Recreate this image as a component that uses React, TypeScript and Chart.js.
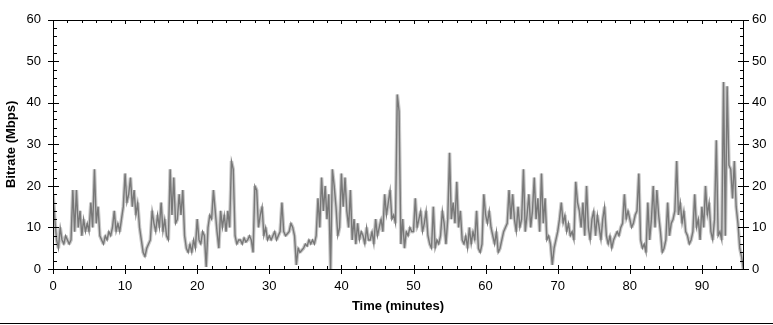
import React, { useEffect, useRef } from "react";
import { Chart, registerables } from "chart.js";

Chart.register(...registerables);

// Samples every quarter minute (minutes 0 .. 95.75), Mbps
const SAMPLES_PER_MINUTE = 4;
const bitrate: number[] = [
  18, 12, 7, 5,   10, 7, 6, 8,    7, 6, 7, 19,    9, 19, 10, 14,  8, 12, 9, 11,
  9, 16, 10, 24,  11, 15, 8, 7,   6, 8, 7, 9,     8, 10, 14, 9,   11, 9, 12, 15,
  23, 16, 18, 22, 15, 19, 13, 16, 10, 7, 4, 3,    5, 6, 7, 14,    11, 9, 13, 10,
  16, 9, 12, 8,   7, 24, 13, 22,  11, 12, 18, 13, 19, 8, 5, 4,    6, 4, 7, 5,
  12, 7, 6, 9,    8, 0.5, 10, 13, 12, 19, 14, 9,  5, 14, 10, 13,  9, 14, 10, 26,
  24, 8, 6, 7,    7, 6, 7.5, 6.5, 7, 8, 7, 4,     20, 19, 10, 13, 15, 8, 10, 7,
  8, 7, 8, 9,     7, 8, 9, 16,    9, 8, 8.5, 9,   11, 10, 8, 1,   5, 4, 4.5, 5,
  6, 5.5, 7, 6,   7, 6, 8, 17,    10, 22, 14, 20, 12, 18, 0, 24,  20, 15, 8, 10,
  23, 15, 22, 14, 10, 19, 7, 12,  6, 11, 7, 9,    8, 6, 10, 7,    7, 9, 6, 12,
  8, 10, 12, 9,   18, 13, 16, 19, 12, 13, 11, 42, 38, 6, 12, 5,   9, 8, 10, 9,
  9, 17, 10, 12,  14, 9, 11, 14,  8, 6, 5, 15,    5, 7, 6, 8,     14, 11, 6, 12,
  28, 12, 16, 11, 21, 10, 14, 7,  6, 8, 5, 10,    6, 9, 7, 14,    5, 4, 6, 18,
  13, 11, 14, 10, 8, 6, 9, 4,     5, 7, 9, 10,    11, 19, 12, 18, 12, 9, 15, 10,
  12, 24, 9, 13,  18, 10, 14, 22, 12, 17, 9, 23,  11, 17, 7, 8,   6, 1, 5, 7,
  9, 12, 16, 11,  13, 9, 11, 8,   9, 7, 21, 16,   14, 10, 16, 8,  20, 10, 7, 12,
  14, 8, 13, 10,  7, 12, 15, 8,   6, 8, 5, 7,     8, 9, 8, 10,    11, 18, 12, 14,
  12, 10, 11, 13, 14, 23, 7, 5,   6, 4, 16, 7,    12, 20, 10, 19, 13, 9, 4, 5,
  7, 16, 8, 11,   12, 14, 26, 13, 16, 11, 14, 9,  8, 6, 7, 9,     18, 10, 12, 7,
  15, 10, 20, 13, 16, 9, 7, 12,   31, 8, 9, 7,    45, 8, 44, 25,  24, 17, 26, 15,
  11, 5, 3, 0,
];

const xTickValues = [0, 10, 20, 30, 40, 50, 60, 70, 80, 90];
const yTickValues = [0, 10, 20, 30, 40, 50, 60];
const X_MAX = 95.7;
const Y_MAX = 60;

const FONT = "'Liberation Sans', Arial, sans-serif";

const framePlugin = {
  id: "frame",
  afterDraw(chart: any) {
    const { ctx, chartArea, scales } = chart;
    const x = scales.x;
    const y = scales.y;
    const L = Math.round(chartArea.left);
    const R = Math.round(chartArea.right);
    const T = Math.round(chartArea.top);
    const B = Math.round(chartArea.bottom);
    ctx.save();
    ctx.fillStyle = "#000";
    ctx.fillRect(L, T, 1, B - T + 1);
    ctx.fillRect(R, T, 1, B - T + 1);
    ctx.fillRect(L, T, R - L + 1, 1);
    ctx.fillRect(L, B, R - L + 1, 1);
    for (let v = 0; v <= X_MAX; v += 2) {
      const px = Math.round(x.getPixelForValue(v));
      const major = v % 10 === 0;
      if (major) {
        ctx.fillRect(px, B - 4, 1, 9);
        ctx.fillRect(px, T, 1, 4);
      } else {
        ctx.fillRect(px, B - 3, 1, 3);
        ctx.fillRect(px, T, 1, 3);
      }
    }
    for (let v = 0; v <= Y_MAX; v += 2) {
      const py = Math.round(y.getPixelForValue(v));
      const major = v % 10 === 0;
      if (major) {
        ctx.fillRect(L - 5, py, 11, 1);
        ctx.fillRect(R - 5, py, 11, 1);
      } else {
        ctx.fillRect(L, py, 4, 1);
        ctx.fillRect(R - 3, py, 4, 1);
      }
    }
    ctx.fillRect(0, 323, chart.width, 1);
    ctx.restore();
  },
};

export default function App() {
  const canvasRef = useRef<HTMLCanvasElement | null>(null);

  useEffect(() => {
    document.body.style.margin = "0";
    const canvas = canvasRef.current;
    if (!canvas) return;
    const points = bitrate.map((v, i) => ({ x: i / SAMPLES_PER_MINUTE, y: v }));
    const tickFont = { family: FONT, size: 13 };
    const titleFont = { family: FONT, size: 13, weight: "bold" as const };
    const chart = new Chart(canvas, {
      type: "line",
      data: {
        datasets: [
          {
            data: points,
            borderColor: "#787878",
            borderWidth: 1.4,
            borderJoinStyle: "miter",
            pointRadius: 0,
            tension: 0,
          },
          {
            data: points,
            borderColor: "#c8c8c8",
            borderWidth: 3.6,
            borderJoinStyle: "bevel",
            pointRadius: 0,
            tension: 0,
          },
        ],
      },
      options: {
        animation: false,
        responsive: false,
        maintainAspectRatio: false,
        layout: { padding: { top: 7, left: 0, right: 0, bottom: 0 } },
        plugins: { legend: { display: false }, tooltip: { enabled: false } },
        scales: {
          x: {
            type: "linear",
            position: "bottom",
            min: 0,
            max: X_MAX,
            grid: { display: false, drawTicks: false },
            border: { display: false },
            afterBuildTicks: (s: any) => {
              s.ticks = xTickValues.map((v) => ({ value: v }));
            },
            afterFit: (s: any) => {
              s.height = 56;
            },
            ticks: { font: tickFont, color: "#000", padding: 10, maxRotation: 0, autoSkip: false },
            title: {
              display: true,
              text: "Time (minutes)",
              font: titleFont,
              color: "#000",
              padding: { top: 11, bottom: 11 },
            },
          },
          y: {
            type: "linear",
            position: "left",
            min: 0,
            max: Y_MAX,
            grid: { display: false, drawTicks: false },
            border: { display: false },
            afterBuildTicks: (s: any) => {
              s.ticks = yTickValues.map((v) => ({ value: v }));
            },
            afterFit: (s: any) => {
              s.width = 53;
            },
            ticks: { font: tickFont, color: "#000", padding: 12 },
            title: {
              display: true,
              text: "Bitrate (Mbps)",
              font: titleFont,
              color: "#000",
              padding: { top: 4, bottom: 4 },
            },
          },
          y2: {
            type: "linear",
            position: "right",
            min: 0,
            max: Y_MAX,
            grid: { display: false, drawTicks: false },
            border: { display: false },
            afterBuildTicks: (s: any) => {
              s.ticks = yTickValues.map((v) => ({ value: v }));
            },
            afterFit: (s: any) => {
              s.width = 30;
            },
            ticks: { font: tickFont, color: "#000", padding: 9 },
          },
        },
      },
      plugins: [framePlugin],
    });
    return () => chart.destroy();
  }, []);

  return (
    <div style={{ width: 773, height: 325 }}>
      <canvas ref={canvasRef} width={773} height={325} style={{ display: "block" }} />
    </div>
  );
}
